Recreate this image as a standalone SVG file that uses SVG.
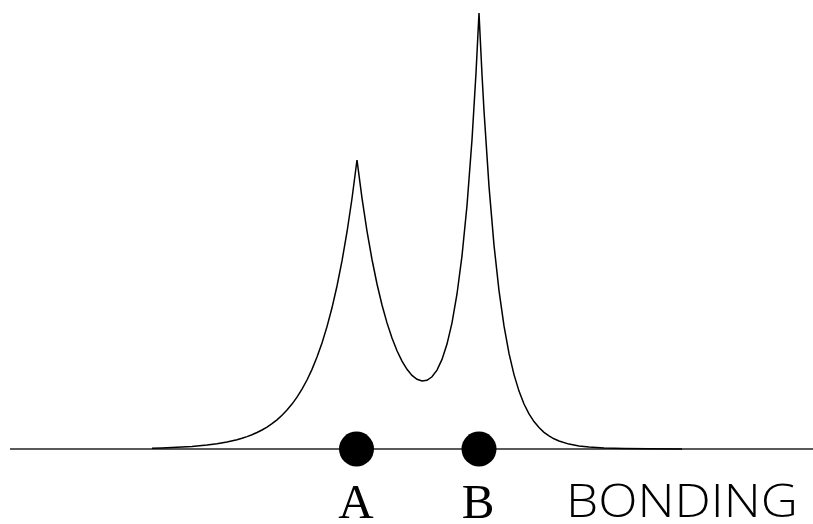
<svg xmlns="http://www.w3.org/2000/svg" width="813" height="524" viewBox="0 0 813 524">
<style>
.axis{stroke:#5a5a5a;stroke-width:2;fill:none}
.curve{stroke:#000;stroke-width:1.5;fill:none;stroke-linejoin:miter}
.atom{fill:#000}
.lbl{font-family:"Liberation Serif",serif;font-size:49px;fill:#000;text-anchor:middle}
.title{font-family:"Open Sans","Liberation Sans",sans-serif;font-weight:300;font-size:46px;fill:#000}
</style>
<g id="connectors">
<line class="axis" x1="10" y1="449" x2="813" y2="449"/>
<polyline class="curve" points="152,448.3 162,447.9 177,447.3 192,446.4 207,445.05 217,443.75 227,442 237,439.7 242,438.3 247,436.6 252,434.7 257,432.5 262,430 267,427.1 272,423.7 277,419.8 282,415.3 287,410.1 292,404.1 297,397.2 302,389.2 307,380 312,369.4 317,357.1 322,343 327,326.6 332,307.8 337,286 342,260.9 347,232 352,198.5 357,160 362,198.1 367,231.1 372,259.5 377,284 382,305 387,322.9 392,338.1 397,350.8 402,361.1 407,369.3 412,375.4 417,379.3 422,381 427,380.3 432,376.8 437,370.1 442,359.4 447,344.1 452,322.8 457,294 462,255.8 467,205.5 472,139.8 476,73 479,13 482,74.5 484,110.7 489,186.4 494,245.1 499,290.6 504,325.9 509,353.4 514,374.6 519,391.1 524,404 529,413.9 534,421.6 539,427.6 544,432.3 549,435.9 554,438.8 559,441 569,444.1 579,446 589,447.1 604,448 624,448.6 649,448.85 682,449"/>
</g>
<g id="atomA">
<circle class="atom" cx="356.5" cy="449" r="17.5"/>
<text class="lbl" x="356" y="518">A</text>
</g>
<g id="atomB">
<circle class="atom" cx="479" cy="449" r="17.5"/>
<text class="lbl" x="478" y="518">B</text>
</g>
<g id="label">
<text class="title" x="566" y="517" textLength="232" lengthAdjust="spacingAndGlyphs">BONDING</text>
</g>
</svg>
